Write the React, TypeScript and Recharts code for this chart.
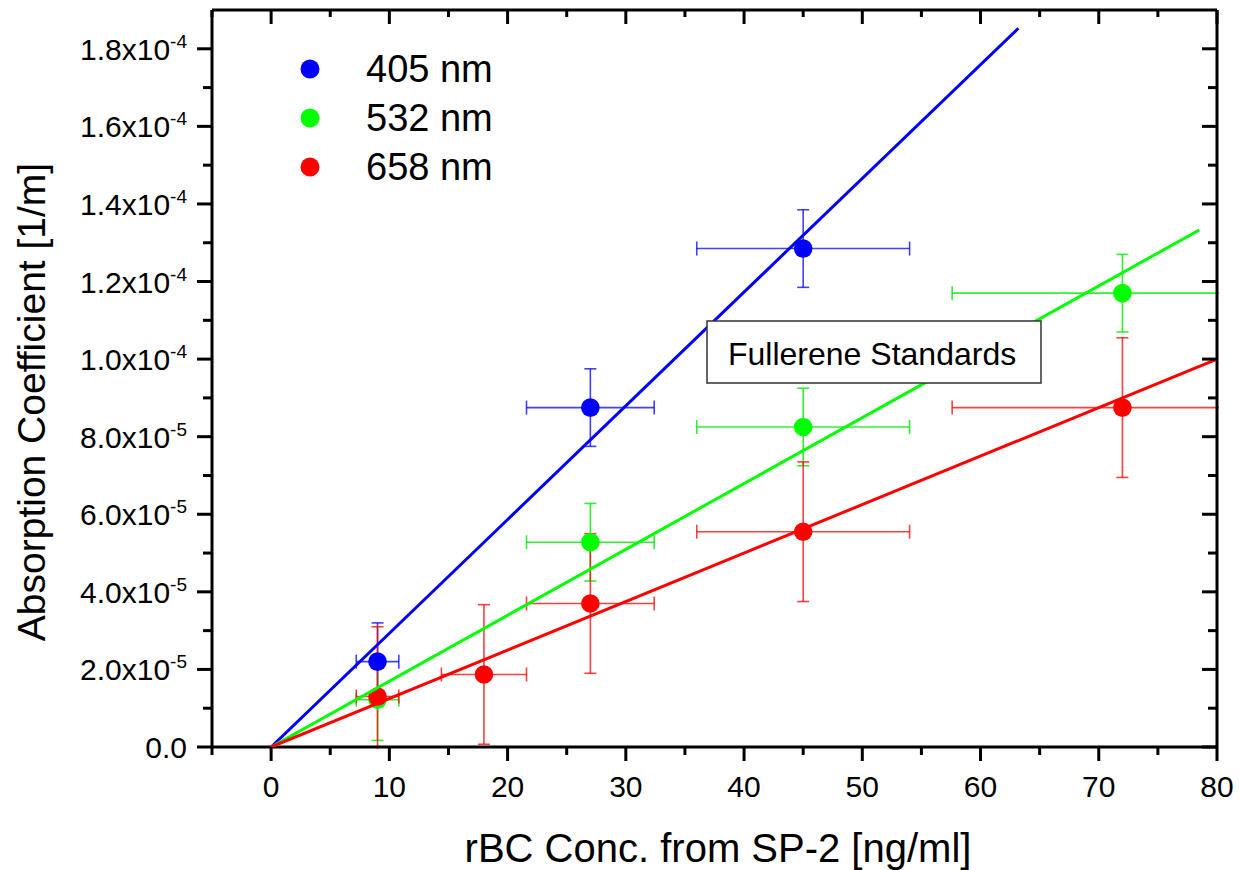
import React from 'react'
import { ScatterChart, Scatter, XAxis, YAxis, ErrorBar } from 'recharts'

// measured points (x = rBC conc., y = absorption coeff.)
const blueX = [9, 27, 45]
const blueY = [2.2e-5, 8.75e-5, 1.285e-4]
const blueEx = [1.8, 5.4, 9]
const blueEy = [1.0e-5, 1.0e-5, 1.0e-5]

const greenX = [9, 27, 45, 72]
const greenY = [1.22e-5, 5.28e-5, 8.25e-5, 1.17e-4]
const greenEx = [1.8, 5.4, 9, 14.4]
const greenEy = [1.05e-5, 1.0e-5, 1.0e-5, 1.0e-5]

const redX = [9, 18, 27, 45, 72]
const redY = [1.3e-5, 1.87e-5, 3.7e-5, 5.55e-5, 8.75e-5]
const redEx = [1.8, 3.6, 5.4, 9, 14.4]
const redEy = [1.8e-5, 1.8e-5, 1.8e-5, 1.8e-5, 1.8e-5]

// linear fits through origin (start / end)
const blueFitX = [0, 63.2]
const blueFitY = [0, 1.853e-4]
const greenFitX = [0, 78.5]
const greenFitY = [0, 1.333e-4]
const redFitX = [0, 80]
const redFitY = [0, 1.0e-4]

const xTicks = [-5, 0, 5, 10, 15, 20, 25, 30, 35, 40, 45, 50, 55, 60, 65, 70, 75, 80]
const xMajor = [0, 10, 20, 30, 40, 50, 60, 70, 80]
const yTicks = [0, 1e-5, 2e-5, 3e-5, 4e-5, 5e-5, 6e-5, 7e-5, 8e-5, 9e-5, 1e-4, 1.1e-4, 1.2e-4, 1.3e-4, 1.4e-4, 1.5e-4, 1.6e-4, 1.7e-4, 1.8e-4]
const yLabels: [string, string][] = [
  ['0.0', ''], ['2.0x10', '-5'], ['4.0x10', '-5'], ['6.0x10', '-5'], ['8.0x10', '-5'],
  ['1.0x10', '-4'], ['1.2x10', '-4'], ['1.4x10', '-4'], ['1.6x10', '-4'], ['1.8x10', '-4'],
]

const series = [
  { name: '405 nm', color: '#0000ff', err: 'rgba(0,0,255,0.75)' },
  { name: '532 nm', color: '#00ff00', err: 'rgba(0,235,0,0.8)' },
  { name: '658 nm', color: '#ff0000', err: 'rgba(255,0,0,0.75)' },
]

const zip = (xs: number[], ys: number[], ex?: number[], ey?: number[]) =>
  xs.map((x, i) => ({ x, y: ys[i], ex: ex ? ex[i] : 0, ey: ey ? ey[i] : 0 }))

const blueData = zip(blueX, blueY, blueEx, blueEy)
const greenData = zip(greenX, greenY, greenEx, greenEy)
const redData = zip(redX, redY, redEx, redEy)
const fits = [zip(blueFitX, blueFitY), zip(greenFitX, greenFitY), zip(redFitX, redFitY)]

const FONT = '"Liberation Sans", Arial, sans-serif'
const W = 1239
const H = 870

const yIdx = (v: number) => Math.round(v / 1e-5)

const BottomTick = (p: any) => {
  const { x, y, payload } = p
  const major = xMajor.includes(payload.value)
  return (
    <g>
      <line x1={x} y1={y} x2={x} y2={y + (major ? 14 : 8)} stroke="#000" strokeWidth={3} />
      {major && (
        <text x={x} y={y + 50} textAnchor="middle" fontSize={30} fontFamily={FONT} fill="#000">
          {payload.value}
        </text>
      )}
    </g>
  )
}

const TopTick = (p: any) => {
  const { x, y, payload } = p
  const major = xMajor.includes(payload.value)
  return <line x1={x} y1={y} x2={x} y2={y + (major ? 14 : 7)} stroke="#000" strokeWidth={3} />
}

const LeftTick = (p: any) => {
  const { x, y, payload } = p
  const i = yIdx(payload.value)
  const major = i % 2 === 0
  const lab = yLabels[i / 2]
  return (
    <g>
      <line x1={x} y1={y} x2={x - (major ? 15 : 9)} y2={y} stroke="#000" strokeWidth={3} />
      {major && lab && (
        <text x={x - 25} y={y + 11} textAnchor="end" fontSize={30} fontFamily={FONT} fill="#000">
          {lab[0]}
          {lab[1] && (
            <tspan fontSize={19} dy={-12}>
              {lab[1]}
            </tspan>
          )}
        </text>
      )}
    </g>
  )
}

const RightTick = (p: any) => {
  const { x, y, payload } = p
  const major = yIdx(payload.value) % 2 === 0
  return <line x1={x} y1={y} x2={x - (major ? 15 : 9)} y2={y} stroke="#000" strokeWidth={3} />
}

const dot = (color: string) => (props: any) => <circle cx={props.cx} cy={props.cy} r={9.3} fill={color} />
const noDot = () => <g />

export default function App() {
  const axisLine = { stroke: '#000', strokeWidth: 3 }
  return (
    <div style={{ position: 'absolute', left: 0, top: 0, width: W, height: H, background: '#fff' }}>
      <ScatterChart width={W} height={H} margin={{ top: 9, right: 21, bottom: 43, left: 62 }}>
        <XAxis
          type="number"
          dataKey="x"
          domain={[-5, 80]}
          allowDataOverflow
          ticks={xTicks}
          interval={0}
          tickSize={0}
          tickMargin={0}
          tickLine={false}
          axisLine={axisLine}
          tick={BottomTick}
          height={80}
          label={{
            content: () => (
              <text x={718} y={862} textAnchor="middle" fontSize={40} fontFamily={FONT} fill="#000">
                rBC Conc. from SP-2 [ng/ml]
              </text>
            ),
          }}
        />
        <XAxis
          xAxisId="top"
          orientation="top"
          type="number"
          dataKey="x"
          domain={[-5, 80]}
          allowDataOverflow
          ticks={xTicks}
          interval={0}
          tickSize={0}
          tickMargin={0}
          tickLine={false}
          axisLine={axisLine}
          tick={TopTick}
          height={1}
        />
        <YAxis
          type="number"
          dataKey="y"
          domain={[0, 1.9e-4]}
          allowDataOverflow
          ticks={yTicks}
          interval={0}
          tickSize={0}
          tickMargin={0}
          tickLine={false}
          axisLine={axisLine}
          tick={LeftTick}
          width={150}
          label={{
            content: () => (
              <text
                x={45}
                y={402}
                transform="rotate(-90 45 402)"
                textAnchor="middle"
                fontSize={39}
                fontFamily={FONT}
                fill="#000"
              >
                Absorption Coefficient [1/m]
              </text>
            ),
          }}
        />
        <YAxis
          yAxisId="right"
          orientation="right"
          type="number"
          dataKey="y"
          domain={[0, 1.9e-4]}
          allowDataOverflow
          ticks={yTicks}
          interval={0}
          tickSize={0}
          tickMargin={0}
          tickLine={false}
          axisLine={axisLine}
          tick={RightTick}
          width={1}
        />

        <Scatter data={blueData} shape={dot(series[0].color)} isAnimationActive={false}>
          <ErrorBar dataKey="ex" direction="x" width={7} stroke={series[0].err} strokeWidth={1.6} />
          <ErrorBar dataKey="ey" direction="y" width={6} stroke={series[0].err} strokeWidth={1.6} />
        </Scatter>
        <Scatter data={greenData} shape={dot(series[1].color)} isAnimationActive={false}>
          <ErrorBar dataKey="ex" direction="x" width={7} stroke={series[1].err} strokeWidth={1.6} />
          <ErrorBar dataKey="ey" direction="y" width={6} stroke={series[1].err} strokeWidth={1.6} />
        </Scatter>
        <Scatter data={redData} shape={dot(series[2].color)} isAnimationActive={false}>
          <ErrorBar dataKey="ex" direction="x" width={7} stroke={series[2].err} strokeWidth={1.6} />
          <ErrorBar dataKey="ey" direction="y" width={6} stroke={series[2].err} strokeWidth={1.6} />
        </Scatter>

        {fits.map((d, i) => (
          <Scatter
            key={i}
            data={d}
            xAxisId={i === 2 ? 'top' : 0}
            yAxisId={i === 2 ? 'right' : 0}
            line={{ stroke: series[i].color, strokeWidth: 3 }}
            shape={noDot}
            isAnimationActive={false}
          />
        ))}
      </ScatterChart>

      <svg width={W} height={H} style={{ position: 'absolute', left: 0, top: 0, pointerEvents: 'none' }}>
        {/* error bars are cut off at the frame, as in the original plot */}
        <rect x={1219} y={0} width={20} height={748} fill="#fff" />
        <rect x={366} y={749} width={20} height={22} fill="#fff" />
        {series.map((s, i) => (
          <g key={s.name}>
            <circle cx={310} cy={69 + i * 49} r={9.5} fill={s.color} />
            <text x={366} y={69 + i * 49 + 13} fontSize={38} fontFamily={FONT} fill="#000">
              {s.name}
            </text>
          </g>
        ))}
        <rect x={707} y={321} width={334} height={62} fill="#fff" stroke="#333" strokeWidth={1.5} />
        <text x={728} y={365} fontSize={32} fontFamily={FONT} fill="#000">
          Fullerene Standards
        </text>
      </svg>
    </div>
  )
}
